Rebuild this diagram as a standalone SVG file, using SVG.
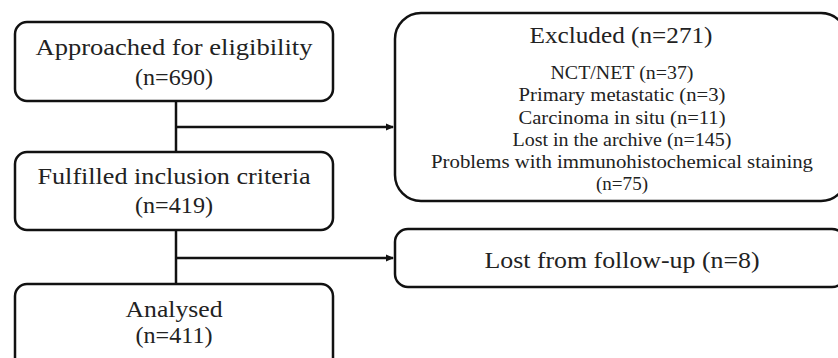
<svg xmlns="http://www.w3.org/2000/svg" width="838" height="358" viewBox="0 0 838 358">
<defs>
<style>
.box{fill:#fff;stroke:#111;stroke-width:2.5}
.ln{fill:none;stroke:#111;stroke-width:2.5}
.t{font-family:"Liberation Serif","Times New Roman",serif;fill:#222;text-anchor:middle}
.big{font-size:24px}
.sm{font-size:18.5px}
</style>
<marker id="ah" markerWidth="8" markerHeight="8" refX="7" refY="4" orient="auto" markerUnits="userSpaceOnUse">
<path d="M0,0.5 L8,4 L0,7.5 Z" fill="#111"/>
</marker>
</defs>
<g id="connectors">
<line class="ln" x1="176" y1="101" x2="176" y2="152"/>
<line class="ln" x1="176" y1="230" x2="176" y2="284"/>
<line class="ln" x1="176" y1="127" x2="393" y2="127" stroke-width="2" marker-end="url(#ah)"/>
<line class="ln" x1="176" y1="258" x2="393" y2="258" stroke-width="2" marker-end="url(#ah)"/>
</g>
<g id="n1">
<rect class="box" x="15" y="22" width="318" height="79" rx="12"/>
<text class="t big" x="174" y="55" textLength="277" lengthAdjust="spacingAndGlyphs">Approached for eligibility</text>
<text class="t big" x="174" y="85" textLength="78" lengthAdjust="spacingAndGlyphs">(n=690)</text>
</g>
<g id="n2">
<rect class="box" x="15" y="152" width="318" height="78" rx="12"/>
<text class="t big" x="174" y="184" textLength="273" lengthAdjust="spacingAndGlyphs">Fulfilled inclusion criteria</text>
<text class="t big" x="174" y="213" textLength="78" lengthAdjust="spacingAndGlyphs">(n=419)</text>
</g>
<g id="n3">
<rect class="box" x="15" y="284" width="318" height="90" rx="12"/>
<text class="t big" x="174" y="317" textLength="97" lengthAdjust="spacingAndGlyphs">Analysed</text>
<text class="t big" x="174" y="343" textLength="77" lengthAdjust="spacingAndGlyphs">(n=411)</text>
</g>
<g id="n4">
<rect class="box" x="395" y="13" width="452" height="188" rx="26"/>
<text class="t big" x="621" y="43" textLength="183" lengthAdjust="spacingAndGlyphs">Excluded (n=271)</text>
<text class="t sm" x="622" y="79" textLength="143" lengthAdjust="spacingAndGlyphs">NCT/NET (n=37)</text>
<text class="t sm" x="622" y="101" textLength="207" lengthAdjust="spacingAndGlyphs">Primary metastatic (n=3)</text>
<text class="t sm" x="622" y="124" textLength="207" lengthAdjust="spacingAndGlyphs">Carcinoma in situ (n=11)</text>
<text class="t sm" x="622" y="146" textLength="219" lengthAdjust="spacingAndGlyphs">Lost in the archive (n=145)</text>
<text class="t sm" x="622" y="168" textLength="382" lengthAdjust="spacingAndGlyphs">Problems with immunohistochemical staining</text>
<text class="t sm" x="622" y="190" textLength="52" lengthAdjust="spacingAndGlyphs">(n=75)</text>
</g>
<g id="n5">
<rect class="box" x="395" y="229" width="450" height="58" rx="13"/>
<text class="t big" x="622" y="268" textLength="275" lengthAdjust="spacingAndGlyphs">Lost from follow-up (n=8)</text>
</g>
</svg>
